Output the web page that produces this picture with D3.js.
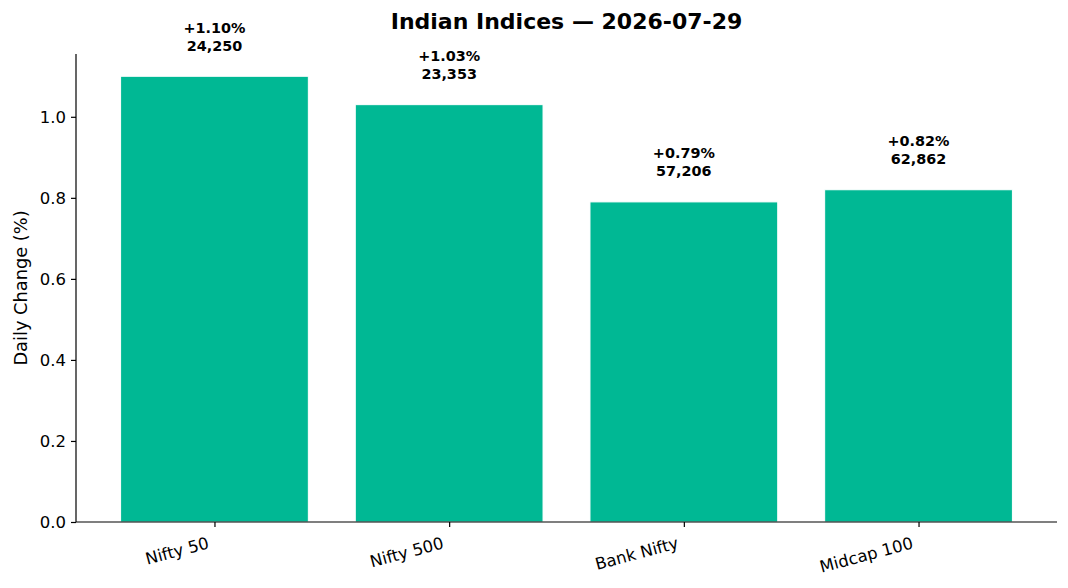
<!DOCTYPE html>
<html>
<head>
<meta charset="utf-8">
<script src="https://d3js.org/d3.v7.min.js"></script>
<style>
body { margin: 0; background: #fff; font-family: 'DejaVu Sans', sans-serif; }
</style>
</head>
<body>
<svg id="chart" width="1068" height="588"></svg>
<script>
  var names = ["Nifty 50", "Nifty 500", "Bank Nifty", "Midcap 100"];
  var changes = [1.10, 1.03, 0.79, 0.82];
  var levels = ["24,250", "23,353", "57,206", "62,862"];
  var yTicks = [0.0, 0.2, 0.4, 0.6, 0.8, 1.0];

  var mLeft = 76, mRight = 1057, mTop = 54, mBottom = 522;

  var x = d3.scaleLinear().domain([-0.59, 3.59]).range([mLeft, mRight]);
  var y = d3.scaleLinear().domain([0, 1.155]).range([mBottom, mTop]);

  var svg = d3.select("#chart");

  svg.append("text")
    .attr("x", (mLeft + mRight) / 2)
    .attr("y", 29)
    .attr("text-anchor", "middle")
    .style("font-size", "22px")
    .style("font-weight", "bold")
    .text("Indian Indices \u2014 2026-07-29");

  var g = svg.append("g");

  g.selectAll("rect.bar")
    .data(changes)
    .enter().append("rect")
    .attr("class", "bar")
    .attr("x", function (d, i) { return x(i - 0.4); })
    .attr("width", x(0.4) - x(-0.4))
    .attr("y", function (d) { return y(d); })
    .attr("height", function (d) { return y(0) - y(d); })
    .attr("fill", "#00b894")
    .attr("stroke", "#ffffff")
    .attr("stroke-width", 1);

  // value labels above bars
  var lab = g.selectAll("text.val")
    .data(changes)
    .enter().append("text")
    .attr("class", "val")
    .attr("text-anchor", "middle")
    .style("font-size", "14.4px")
    .style("font-weight", "bold");
  lab.append("tspan")
    .attr("x", function (d, i) { return x(i); })
    .attr("y", function (d) { return y(d) - 43.5; })
    .text(function (d) { return "+" + d.toFixed(2) + "%"; });
  lab.append("tspan")
    .attr("x", function (d, i) { return x(i); })
    .attr("y", function (d) { return y(d) - 25.5; })
    .text(function (d, i) { return levels[i]; });

  // y axis
  var yAxis = d3.axisLeft(y).tickValues(yTicks).tickFormat(d3.format(".1f")).tickSize(5).tickPadding(5);
  var ya = svg.append("g").attr("transform", "translate(" + mLeft + ",0)").call(yAxis);
  ya.select(".domain").attr("d", "M0," + mTop + "V" + mBottom);
  ya.selectAll("text").style("font-size", "16.5px").style("font-family", "'DejaVu Sans', sans-serif").attr("fill", "#000");
  ya.selectAll("line,path").attr("stroke", "#000").attr("stroke-width", 1.2);

  // x axis
  var xAxis = d3.axisBottom(x).tickValues(d3.range(names.length)).tickFormat(function (i) { return names[i]; }).tickSize(5);
  var xa = svg.append("g").attr("transform", "translate(0," + mBottom + ")").call(xAxis);
  xa.select(".domain").attr("d", "M" + mLeft + ",0H" + mRight);
  xa.selectAll("line,path").attr("stroke", "#000").attr("stroke-width", 1.2);
  xa.selectAll("text")
    .style("font-size", "16.5px")
    .style("font-family", "'DejaVu Sans', sans-serif")
    .attr("fill", "#000")
    .attr("text-anchor", "end")
    .attr("dy", null)
    .attr("y", null)
    .attr("transform", "translate(-5,26) rotate(-15)");

  svg.append("text")
    .attr("transform", "translate(27," + (mTop + mBottom) / 2 + ") rotate(-90)")
    .attr("text-anchor", "middle")
    .style("font-size", "17.8px")
    .text("Daily Change (%)");
</script>
</body>
</html>
